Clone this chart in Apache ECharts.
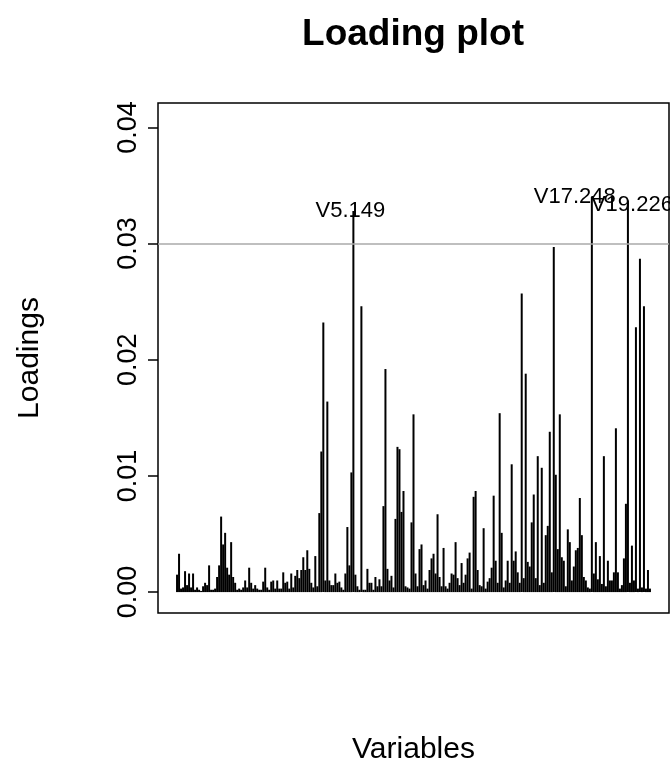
<!DOCTYPE html>
<html>
<head>
<meta charset="utf-8">
<script src="https://cdn.jsdelivr.net/npm/echarts@6.0.0/dist/echarts.min.js"></script>
<style>
	html, body { margin: 0; padding: 0; background: #fff; }
	#main { width: 670px; height: 770px; }
</style>
</head>
<body>
<div id="main"></div>
<script>
// loadings per variable, in plot order
const loadings = [
	0.0015, 0.0033, 0.0003, 0.0004, 0.0018, 0.0006, 0.0016, 0.0004, 0.0016, 0.0002,
	0.0004, 0.0002, 0.0001, 0.0005, 0.0008, 0.0006, 0.0023, 0.0002, 0.0002, 0.0003,
	0.0013, 0.0023, 0.0065, 0.0041, 0.0051, 0.0021, 0.0015, 0.0043, 0.0013, 0.0008,
	0.0002, 0.0003, 0.0002, 0.0004, 0.0010, 0.0004, 0.0021, 0.0008, 0.0003, 0.0006,
	0.0003, 0.0002, 0.0002, 0.0009, 0.0021, 0.0004, 0.0002, 0.0009, 0.0010, 0.0003,
	0.0010, 0.0003, 0.0003, 0.0017, 0.0008, 0.0009, 0.0003, 0.0016, 0.0004, 0.0014,
	0.0019, 0.0012, 0.0019, 0.0030, 0.0019, 0.0036, 0.0020, 0.0008, 0.0004, 0.0031,
	0.0005, 0.0068, 0.0121, 0.0232, 0.0010, 0.0164, 0.0010, 0.0006, 0.0006, 0.0016,
	0.0008, 0.0009, 0.0004, 0.0002, 0.0016, 0.0056, 0.0023, 0.0103, 0.0328, 0.0015,
	0.0005, 0.0002, 0.0246, 0.0002, 0.0002, 0.0020, 0.0008, 0.0008, 0.0002, 0.0013,
	0.0005, 0.0011, 0.0005, 0.0074, 0.0192, 0.0020, 0.0010, 0.0014, 0.0004, 0.0063,
	0.0125, 0.0123, 0.0069, 0.0087, 0.0005, 0.0004, 0.0003, 0.0060, 0.0153, 0.0016,
	0.0005, 0.0037, 0.0041, 0.0006, 0.0010, 0.0003, 0.0019, 0.0029, 0.0033, 0.0016,
	0.0067, 0.0013, 0.0005, 0.0038, 0.0005, 0.0003, 0.0008, 0.0016, 0.0015, 0.0043,
	0.0012, 0.0006, 0.0025, 0.0008, 0.0015, 0.0029, 0.0034, 0.0003, 0.0082, 0.0087,
	0.0019, 0.0006, 0.0005, 0.0055, 0.0003, 0.0009, 0.0012, 0.0021, 0.0083, 0.0027,
	0.0008, 0.0154, 0.0051, 0.0004, 0.0010, 0.0027, 0.0008, 0.0110, 0.0027, 0.0035,
	0.0017, 0.0008, 0.0257, 0.0012, 0.0188, 0.0026, 0.0022, 0.0060, 0.0084, 0.0012,
	0.0117, 0.0006, 0.0107, 0.0008, 0.0049, 0.0057, 0.0138, 0.0017, 0.0297, 0.0101,
	0.0037, 0.0153, 0.0030, 0.0027, 0.0005, 0.0054, 0.0043, 0.0010, 0.0022, 0.0036,
	0.0038, 0.0081, 0.0049, 0.0013, 0.0010, 0.0004, 0.0003, 0.0340, 0.0016, 0.0043,
	0.0011, 0.0031, 0.0007, 0.0117, 0.0005, 0.0027, 0.0010, 0.0010, 0.0017, 0.0141,
	0.0017, 0.0003, 0.0006, 0.0029, 0.0076, 0.0337, 0.0008, 0.0040, 0.0010, 0.0228,
	0.0003, 0.0287, 0.0004, 0.0246, 0.0003, 0.0019, 0.0003
];

// variables named on the plot
const labelIndex = [88, 207, 225];
const labelNames = ['V5.149', 'V17.248', 'V19.226'];
const labelOffsets = [[-3, 11], [-17, 11], [4, 15]];

const yTicks = [0, 0.01, 0.02, 0.03, 0.04];
const cutoff = 0.03;

const FONT = '"Liberation Sans", Arial, sans-serif';

let seriesData = loadings.map(function (v, i) {
	let k = labelIndex.indexOf(i);
	if (k < 0) return [i, v];
	return {
		value: [i, v],
		label: {
			show: true,
			position: 'top',
			distance: 0,
			offset: labelOffsets[k],
			formatter: labelNames[k],
			color: '#000',
			fontFamily: FONT,
			fontSize: 22
		}
	};
});

let chart = echarts.init(document.getElementById('main'), null, { renderer: 'canvas' });

let option = {
	animation: false,
	backgroundColor: '#fff',
	title: {
		text: 'Loading plot',
		left: 408,
		top: 11,
		textAlign: 'center',
		textStyle: {
			fontFamily: FONT,
			fontWeight: 'bold',
			fontSize: 37,
			color: '#000'
		}
	},
	grid: {
		left: 158,
		top: 103,
		width: 511,
		height: 515,
		show: true,
		borderColor: '#000',
		borderWidth: 1.5,
		backgroundColor: 'transparent'
	},
	xAxis: {
		type: 'value',
		min: -9.5,
		max: loadings.length - 1 + 9.5,
		name: 'Variables',
		nameLocation: 'middle',
		nameGap: 122,
		nameTextStyle: { fontFamily: FONT, fontSize: 30, color: '#000' },
		axisLine: { show: false },
		axisTick: { show: false },
		axisLabel: { show: false },
		splitLine: { show: false }
	},
	yAxis: {
		type: 'value',
		min: -0.0018,
		max: 0.0421,
		name: 'Loadings',
		nameLocation: 'middle',
		nameRotate: 90,
		nameGap: 113,
		nameTextStyle: { fontFamily: FONT, fontSize: 30, color: '#000' },
		axisLine: { show: false, onZero: false },
		axisTick: {
			show: true,
			customValues: yTicks,
			length: 10,
			lineStyle: { color: '#000', width: 1.5 }
		},
		axisLabel: {
			show: true,
			customValues: yTicks,
			rotate: 90,
			margin: 16,
			fontFamily: FONT,
			fontSize: 27,
			color: '#000',
			formatter: function (v) { return v.toFixed(2); }
		},
		splitLine: { show: false }
	},
	series: [{
		type: 'bar',
		barWidth: 2,
		itemStyle: { color: '#000' },
		data: seriesData,
		markLine: {
			silent: true,
			symbol: 'none',
			label: { show: false },
			lineStyle: { color: '#aaaaaa', width: 1.5, type: 'solid' },
			data: [{ yAxis: cutoff }]
		}
	}]
};

chart.setOption(option);
</script>
</body>
</html>
